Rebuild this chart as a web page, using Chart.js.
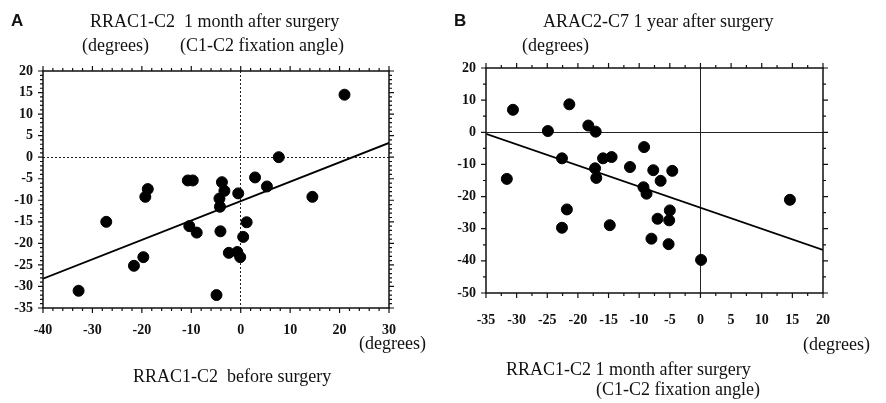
<!DOCTYPE html>
<html>
<head>
<meta charset="utf-8">
<script src="https://cdn.jsdelivr.net/npm/chart.js"></script>
<style>
  html, body { margin: 0; padding: 0; background: #fff; }
  #wrap { position: relative; width: 886px; height: 403px; overflow: hidden; }
  canvas { position: absolute; top: 0; }
  .t { position: absolute; font-family: "Liberation Serif", "Times New Roman", serif; font-size: 18px; line-height: 18px; color: #111; white-space: pre; }
  .p { position: absolute; font-family: "Liberation Sans", Arial, sans-serif; font-weight: bold; font-size: 17px; line-height: 17px; color: #111; }
</style>
</head>
<body>
<div id="wrap">
  <canvas id="chartA" width="443" height="403" style="left:0"></canvas>
  <canvas id="chartB" width="443" height="403" style="left:443px"></canvas>

  <div class="p" style="left:11px; top:12px">A</div>
  <div class="t" style="left:90px; top:12px">RRAC1-C2  1 month after surgery</div>
  <div class="t" style="left:82px; top:36px">(degrees)</div>
  <div class="t" style="left:180px; top:36px">(C1-C2 fixation angle)</div>
  <div class="t" style="left:359px; top:334px">(degrees)</div>
  <div class="t" style="left:133px; top:367px">RRAC1-C2  before surgery</div>

  <div class="p" style="left:454px; top:12px">B</div>
  <div class="t" style="left:543px; top:12px">ARAC2-C7 1 year after surgery</div>
  <div class="t" style="left:522px; top:36px">(degrees)</div>
  <div class="t" style="left:803px; top:335px">(degrees)</div>
  <div class="t" style="left:506px; top:360px">RRAC1-C2 1 month after surgery</div>
  <div class="t" style="left:596px; top:380px">(C1-C2 fixation angle)</div>
</div>

<script>
// ---- Panel A: before surgery (x) vs 1 month after surgery (y)
const beforeA = [-32.8, -27.2, -21.6, -19.7, -19.3, -18.8, -10.7, -9.7, -10.4, -8.9, -4.9, -4.3, -4.2, -3.8, -3.3, -4.1, -2.4, -0.7, -0.1, -0.5, 0.5, 1.2, 2.9, 5.3, 7.7, 14.5, 21.0];
const afterA  = [-31.0, -15.0, -25.2, -23.2, -9.2, -7.4, -5.4, -5.4, -16.0, -17.5, -32.0, -9.6, -11.5, -5.8, -7.8, -17.2, -22.2, -22.0, -23.2, -8.4, -18.5, -15.1, -4.7, -6.8, 0.0, -9.2, 14.5];
const fitAx = [-40, 30];
const fitAy = [-28.2, 3.3];

// ---- Panel B: 1 month after (x) vs ARAC2-C7 1 year after (y)
const monthB = [-30.6, -31.6, -21.4, -24.9, -22.6, -21.8, -22.6, -18.3, -17.1, -15.9, -14.5, -17.2, -17.0, -14.8, -11.5, -9.2, -9.3, -8.8, -7.7, -6.5, -4.6, -5.0, -7.0, -5.1, -8.0, -5.2, 0.1, 14.6];
const yearB  = [7.0, -14.5, 8.7, 0.4, -8.1, -24.0, -29.7, 2.1, 0.2, -8.1, -7.7, -11.2, -14.2, -28.9, -10.8, -4.6, -17.1, -19.1, -11.8, -15.1, -12.0, -24.3, -26.9, -27.4, -33.1, -34.8, -39.7, -21.0];
const fitBx = [-35, 20];
const fitBy = [-0.5, -36.6];

const pairs = (xs, ys) => xs.map((x, i) => ({ x: x, y: ys[i] }));

// frame with outward tick marks on all four sides
const framePlugin = {
    id: "frame",
    afterDraw(chart, args, opts) {
        const ctx = chart.ctx;
        const a = chart.chartArea;
        const xs = chart.scales.x, ys = chart.scales.y;
        ctx.save();
        ctx.strokeStyle = "#111";
        ctx.lineWidth = 1.5;
        ctx.strokeRect(a.left, a.top, a.right - a.left, a.bottom - a.top);
        ctx.lineWidth = 1.2;
        const isMajor = (v, m) => Math.abs(v / m - Math.round(v / m)) < 1e-6;
        ctx.beginPath();
        for (let v = xs.min; v <= xs.max + 1e-6; v += opts.xMinor) {
            const p = xs.getPixelForValue(v);
            const len = isMajor(v, opts.xMajor) ? 5 : 3;
            ctx.moveTo(p, a.bottom); ctx.lineTo(p, a.bottom + len);
            ctx.moveTo(p, a.top); ctx.lineTo(p, a.top - len);
        }
        for (let v = ys.min; v <= ys.max + 1e-6; v += opts.yMinor) {
            const p = ys.getPixelForValue(v);
            const len = isMajor(v, opts.yMajor) ? 5 : 3;
            ctx.moveTo(a.left, p); ctx.lineTo(a.left - len, p);
            ctx.moveTo(a.right, p); ctx.lineTo(a.right + len, p);
        }
        ctx.stroke();
        ctx.restore();
    }
};

const tickFont = { family: "'Liberation Serif', 'Times New Roman', serif", size: 14, weight: "bold" };

function makeChart(id, pts, fit, sc, pad, zeroDash, xPad) {
    const zeroGrid = {
        drawTicks: false,
        color: (c) => c.tick && c.tick.value === 0 ? "#222" : "rgba(0,0,0,0)",
        lineWidth: 1
    };
    return new Chart(document.getElementById(id), {
        type: "scatter",
        data: {
            datasets: [
                {
                    data: pts,
                    backgroundColor: "#000",
                    borderColor: "#000",
                    pointRadius: 5.5,
                    pointHoverRadius: 5.5
                },
                {
                    type: "line",
                    data: fit,
                    borderColor: "#000",
                    borderWidth: 1.8,
                    pointRadius: 0,
                    fill: false
                }
            ]
        },
        options: {
            responsive: false,
            animation: false,
            layout: { padding: pad },
            plugins: {
                legend: { display: false },
                tooltip: { enabled: false },
                frame: { xMajor: sc.xStep, xMinor: sc.xMinor, yMajor: sc.yStep, yMinor: sc.yMinor }
            },
            scales: {
                x: {
                    type: "linear",
                    min: sc.xMin, max: sc.xMax,
                    border: { display: false, dash: zeroDash },
                    grid: zeroGrid,
                    ticks: { stepSize: sc.xStep, color: "#111", font: tickFont, padding: xPad, maxRotation: 0 },
                    afterFit: (s) => { s.height = 40; }
                },
                y: {
                    type: "linear",
                    min: sc.yMin, max: sc.yMax,
                    border: { display: false, dash: zeroDash },
                    grid: zeroGrid,
                    ticks: { stepSize: sc.yStep, color: "#111", font: tickFont, padding: 10 },
                    afterFit: (s) => { s.width = 43; }
                }
            }
        },
        plugins: [framePlugin]
    });
}

makeChart("chartA", pairs(beforeA, afterA), pairs(fitAx, fitAy),
    { xMin: -40, xMax: 30, xStep: 10, xMinor: 2, yMin: -35, yMax: 20, yStep: 5, yMinor: 1 },
    { left: 0, top: 71, right: 54, bottom: 55 }, [2, 2], 14);

makeChart("chartB", pairs(monthB, yearB), pairs(fitBx, fitBy),
    { xMin: -35, xMax: 20, xStep: 5, xMinor: 2.5, yMin: -50, yMax: 20, yStep: 10, yMinor: 5 },
    { left: 0, top: 68, right: 63, bottom: 70 }, [], 19);
</script>
</body>
</html>
